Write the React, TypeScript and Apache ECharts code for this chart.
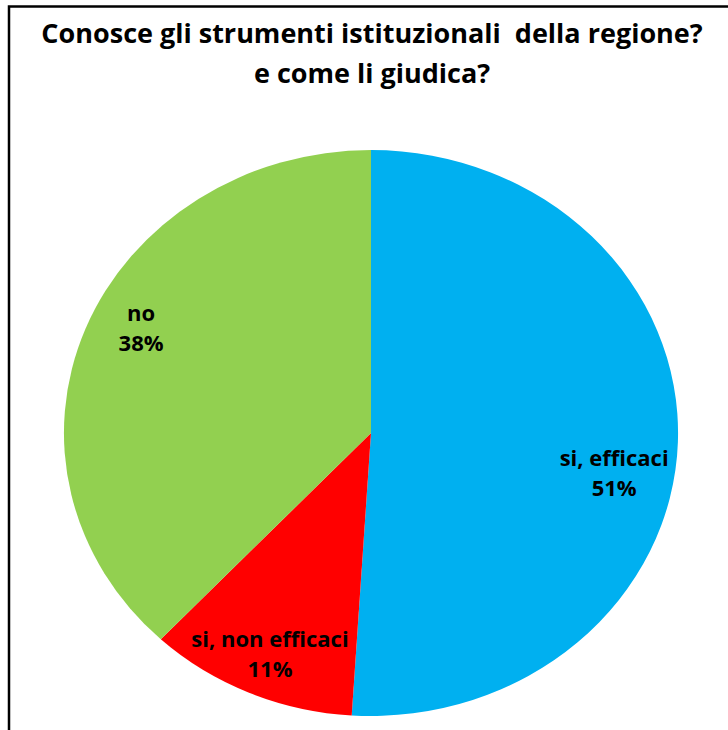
import React, { useEffect, useRef } from "react";
import * as echarts from "echarts";

const categories = ["si, efficaci", "si, non efficaci", "no"];
const values = [51, 11, 38];
const colors = ["#00B0F0", "#FF0000", "#92D050"];
const titleLines = ["Conosce gli strumenti istituzionali  della regione?", "e come li giudica?"];

// layout (not data): ellipse geometry and label anchors as fractions of radii
const CX = 371;
const CY = 433;
const RX = 307;
const RY = 283;
const labelAnchors: [number, number][] = [
  [0.792, 0.138],
  [-0.329, 0.777],
  [-0.749, -0.375],
];
const FONT = "'Open Sans', 'Noto Sans', sans-serif";

export default function App() {
  const ref = useRef<HTMLDivElement>(null);
  useEffect(() => {
    document.body.style.margin = "0";
    const chart = echarts.init(ref.current!, null, { renderer: "svg" });
    const total = values.reduce((a, b) => a + b, 0);
    const starts: number[] = [];
    let acc = 0;
    values.forEach((v) => {
      starts.push(acc);
      acc += v;
    });
    chart.setOption({
      animation: false,
      backgroundColor: "#ffffff",
      graphic: [
        {
          type: "polyline",
          shape: { points: [[9, 730], [9, 6.5], [728, 6.5]] },
          style: { stroke: "#000", lineWidth: 2.5, fill: "none" },
          z: 10,
        },
        ...titleLines.map((t, k) => ({
          type: "text",
          x: 372,
          y: 32 + k * 40,
          style: {
            text: t,
            font: "bold 27px " + FONT,
            fill: "#000",
            align: "center",
            verticalAlign: "middle",
          },
          z: 10,
        })),
      ],
      series: [
        {
          type: "custom",
          coordinateSystem: "none",
          data: values.map((v, i) => ({ value: [v, i], name: categories[i] })),
          renderItem: (params: any, api: any) => {
            const i = params.dataIndex;
            const v = api.value(0);
            const a0 = (starts[i] / total) * Math.PI * 2 - Math.PI / 2;
            const a1 = ((starts[i] + v) / total) * Math.PI * 2 - Math.PI / 2;
            const pct = Math.round((v / total) * 100);
            const [fx, fy] = labelAnchors[i];
            return {
              type: "group",
              children: [
                {
                  type: "sector",
                  x: CX,
                  y: CY,
                  scaleX: RX / RY,
                  scaleY: 1,
                  shape: { cx: 0, cy: 0, r: RY, r0: 0, startAngle: a0, endAngle: a1, clockwise: true },
                  style: { fill: colors[i], stroke: "none" },
                },
                {
                  type: "text",
                  x: CX + RX * fx,
                  y: CY + RY * fy,
                  style: {
                    text: categories[i] + "\n" + pct + "%",
                    font: "bold 22px " + FONT,
                    fill: "#000",
                    align: "center",
                    verticalAlign: "middle",
                    lineHeight: 30,
                  },
                  z2: 10,
                },
              ],
            };
          },
        },
      ],
    });
    return () => chart.dispose();
  }, []);
  return <div ref={ref} style={{ width: 728, height: 730 }} />;
}
